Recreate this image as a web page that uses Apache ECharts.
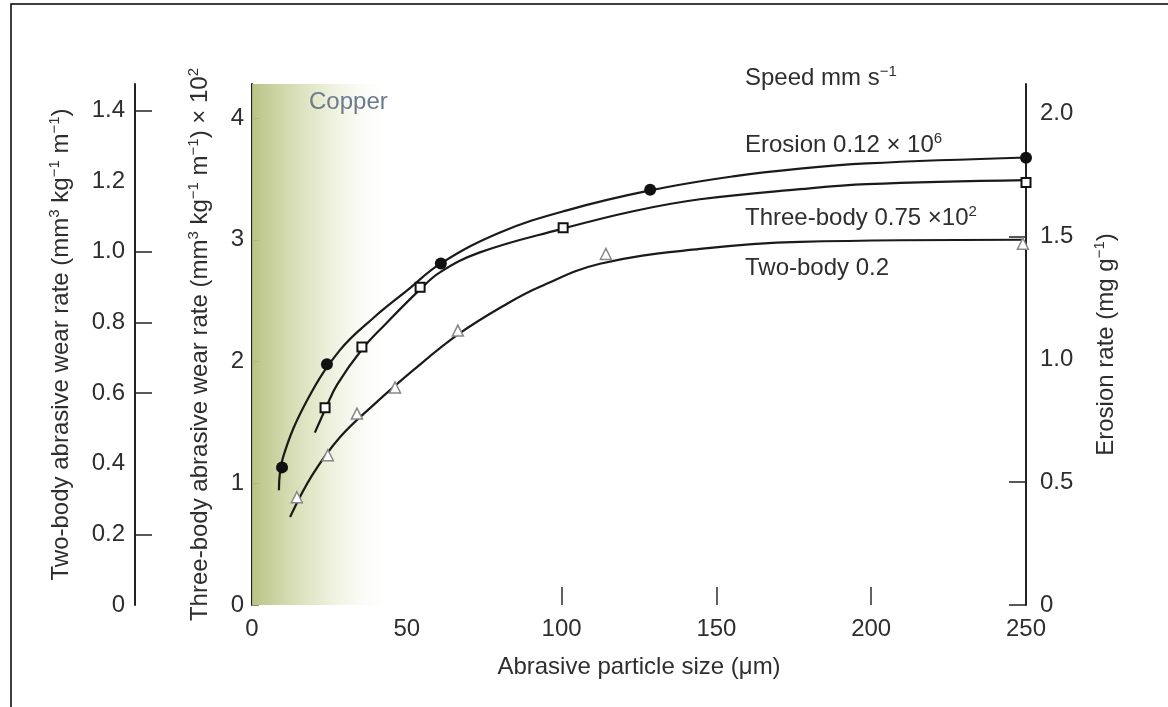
<!DOCTYPE html>
<html>
<head>
<meta charset="utf-8">
<script src="https://cdn.jsdelivr.net/npm/echarts@6/dist/echarts.min.js"></script>
<style>
    html, body { margin: 0; padding: 0; background: #fff; }
    #main { width: 1168px; height: 707px; }
</style>
</head>
<body>
<div id="main"></div>
<script>
var erosionSize = [9.7, 24.2, 61, 128.6, 250]
var erosionRate = [0.56, 0.98, 1.39, 1.69, 1.82]
var threeBodySize = [23.6, 35.5, 54.3, 100.5, 250]
var threeBodyRate = [1.62, 2.12, 2.61, 3.10, 3.47]
var twoBodySize = [14.5, 24.5, 33.9, 46.2, 66.5, 114.3, 249]
var twoBodyRate = [0.305, 0.424, 0.542, 0.616, 0.777, 0.994, 1.023]

// drawn trend curves, traced along the lines of the figure
var erosionCurveSize = [8.7, 10.0, 17.8, 28.4, 39.1, 50.1, 61.0, 80.1, 101.7, 128.6, 155.4, 177.0, 198.6, 250]
var erosionCurveRate = [0.467, 0.60, 0.833, 1.037, 1.167, 1.28, 1.39, 1.516, 1.606, 1.687, 1.744, 1.776, 1.797, 1.821]
var threeBodyCurveSize = [20.3, 23.9, 27.5, 35.5, 43.0, 54.3, 60.7, 73.6, 99.5, 123.1, 144.7, 177.0, 198.6, 250]
var threeBodyCurveRate = [1.416, 1.621, 1.811, 2.099, 2.305, 2.593, 2.733, 2.897, 3.086, 3.235, 3.333, 3.416, 3.457, 3.49]
var twoBodyCurveSize = [12.3, 19.4, 28.4, 39.1, 52.0, 66.9, 82.4, 93.0, 112.4, 144.7, 177.0, 248.7]
var twoBodyCurveRate = [0.249, 0.367, 0.475, 0.565, 0.664, 0.768, 0.853, 0.901, 0.966, 1.008, 1.028, 1.034]

// axis ticks
var sizeTicks = [0, 50, 100, 150, 200, 250]
var sizeTickMarks = [100, 150, 200]
var threeBodyTicks = [0, 1, 2, 3, 4]
var twoBodyTicks = [0, 0.2, 0.4, 0.6, 0.8, 1.0, 1.2, 1.4]
var twoBodyTickMarks = [0.2, 0.6, 0.8, 1.0, 1.4]
var erosionTicks = [0, 0.5, 1.0, 1.5, 2.0]
var erosionTickMarks = [0, 0.5, 1.5]

// shaded "Copper" band, um
var copperBand = [0, 47]

var font = "'Liberation Sans', Arial, sans-serif"
var ink = '#2e2e2e'

function pairs(xs, ys) {
    var out = []
    for (var i = 0; i < xs.length; i++) out.push([xs[i], ys[i]])
    return out
}

var supRich = {
    sup: { fontSize: 15, verticalAlign: 'top', lineHeight: 12, fontFamily: font, color: ink }
}

function curve(name, axis, xs, ys) {
    return {
        name: name, type: 'line', yAxisIndex: axis, z: 2,
        data: pairs(xs, ys),
        smooth: 0.4, showSymbol: false, silent: true,
        lineStyle: { color: '#1a1a1a', width: 2.2 }
    }
}

let chart = echarts.init(document.getElementById('main'))
let option = {
    backgroundColor: '#fff',
    animation: false,
    textStyle: { fontFamily: font },
    grid: { left: 252, right: 142, top: 84, bottom: 102 },
    xAxis: {
        type: 'value',
        min: 0,
        max: 250,
        interval: 50,
        name: 'Abrasive particle size (μm)',
        nameLocation: 'middle',
        nameGap: 50,
        nameTextStyle: { fontSize: 24, color: ink, fontFamily: font },
        axisLine: { show: false },
        axisTick: { show: true, inside: true, length: 18, customValues: sizeTickMarks, lineStyle: { color: ink, width: 1.5 } },
        axisLabel: { customValues: sizeTicks, fontSize: 24, color: ink, margin: 12, fontFamily: font },
        splitLine: { show: false }
    },
    yAxis: [
        {
            // three-body, x 10^2
            type: 'value',
            position: 'left',
            min: 0,
            max: 4.28,
            name: 'Three-body abrasive wear rate (mm{sup|3} kg{sup|−1} m{sup|−1}) × 10{sup|2}',
            nameLocation: 'middle',
            nameRotate: 90,
            nameGap: 38,
            nameTextStyle: { fontSize: 24, color: ink, fontFamily: font, lineHeight: 28, rich: supRich },
            axisLine: { show: true, lineStyle: { color: '#222', width: 2 } },
            axisTick: { show: true, inside: true, length: 7, customValues: threeBodyTicks, lineStyle: { color: '#888' } },
            axisLabel: { customValues: threeBodyTicks, fontSize: 24, color: ink, margin: 8, fontFamily: font },
            splitLine: { show: false }
        },
        {
            // two-body
            type: 'value',
            position: 'left',
            offset: 117,
            min: 0,
            max: 1.475,
            name: 'Two-body abrasive wear rate (mm{sup|3} kg{sup|−1} m{sup|−1})',
            nameLocation: 'middle',
            nameRotate: 90,
            nameGap: 60,
            nameTextStyle: { fontSize: 24, color: ink, fontFamily: font, lineHeight: 28, rich: supRich },
            axisLine: { show: true, lineStyle: { color: '#222', width: 2 } },
            axisTick: { show: true, inside: true, length: 17, customValues: twoBodyTickMarks, lineStyle: { color: '#222', width: 1.5 } },
            axisLabel: {
                customValues: twoBodyTicks, fontSize: 24, color: ink, margin: 10, fontFamily: font,
                formatter: function (v) { return v === 0 ? '0' : v.toFixed(1) }
            },
            splitLine: { show: false }
        },
        {
            // erosion
            type: 'value',
            position: 'right',
            min: 0,
            max: 2.12,
            name: 'Erosion rate (mg g{sup|−1})',
            nameLocation: 'middle',
            nameRotate: 90,
            nameGap: 66,
            nameTextStyle: { fontSize: 24, color: ink, fontFamily: font, lineHeight: 28, rich: supRich },
            axisLine: { show: true, lineStyle: { color: '#222', width: 2 } },
            axisTick: { show: true, inside: true, length: 17, customValues: erosionTickMarks, lineStyle: { color: '#222', width: 1.5 } },
            axisLabel: {
                customValues: erosionTicks, fontSize: 24, color: ink, margin: 14, fontFamily: font,
                formatter: function (v) { return v === 0 ? '0' : v.toFixed(1) }
            },
            splitLine: { show: false }
        }
    ],
    graphic: [
        {
            type: 'polyline',
            shape: { points: [[11, 707], [11, 4], [1168, 4]] },
            style: { stroke: '#000', lineWidth: 1.5, fill: null }
        },
        {
            type: 'text', left: 309, top: 90, z: 20,
            style: { text: 'Copper', fontSize: 24, fill: '#6b7b8c', fontFamily: font }
        },
        {
            type: 'text', left: 745, top: 64, z: 20,
            style: { text: 'Speed mm s{sup|−1}', fontSize: 24, fill: ink, fontFamily: font, lineHeight: 28, rich: supRich }
        },
        {
            type: 'text', left: 745, top: 131, z: 20,
            style: { text: 'Erosion 0.12 × 10{sup|6}', fontSize: 24, fill: ink, fontFamily: font, lineHeight: 28, rich: supRich }
        },
        {
            type: 'text', left: 745, top: 204, z: 20,
            style: { text: 'Three-body 0.75 ×10{sup|2}', fontSize: 24, fill: ink, fontFamily: font, lineHeight: 28, rich: supRich }
        },
        {
            type: 'text', left: 745, top: 254, z: 20,
            style: { text: 'Two-body 0.2', fontSize: 24, fill: ink, fontFamily: font, lineHeight: 28 }
        }
    ],
    series: [
        curve('Erosion curve', 2, erosionCurveSize, erosionCurveRate),
        curve('Three-body curve', 0, threeBodyCurveSize, threeBodyCurveRate),
        curve('Two-body curve', 1, twoBodyCurveSize, twoBodyCurveRate),
        {
            name: 'Erosion', type: 'scatter', yAxisIndex: 2, z: 3,
            data: pairs(erosionSize, erosionRate),
            symbol: 'circle', symbolSize: 12,
            itemStyle: { color: '#111', opacity: 1 }
        },
        {
            name: 'Three-body', type: 'scatter', yAxisIndex: 0, z: 3,
            data: pairs(threeBodySize, threeBodyRate),
            symbol: 'rect', symbolSize: 9,
            itemStyle: { color: '#fff', borderColor: '#111', borderWidth: 2, opacity: 1 }
        },
        {
            name: 'Two-body', type: 'scatter', yAxisIndex: 1, z: 3,
            data: pairs(twoBodySize, twoBodyRate),
            symbol: 'triangle', symbolSize: 11,
            itemStyle: { color: '#fff', borderColor: '#888', borderWidth: 1.5, opacity: 1 }
        },
        // copper shading laid over the lower ends of the curves
        {
            name: 'Copper', type: 'line', yAxisIndex: 0, z: 5, data: [],
            silent: true,
            markArea: {
                silent: true,
                itemStyle: {
                    color: {
                        type: 'linear', x: 0, y: 0, x2: 1, y2: 0,
                        colorStops: [
                            { offset: 0, color: 'rgba(178,190,122,0.92)' },
                            { offset: 0.45, color: 'rgba(216,223,180,0.65)' },
                            { offset: 1, color: 'rgba(255,255,255,0)' }
                        ]
                    }
                },
                data: [[{ xAxis: copperBand[0], yAxis: 0 }, { xAxis: copperBand[1], yAxis: 4.28 }]]
            }
        }
    ]
}
chart.setOption(option)
</script>
</body>
</html>
